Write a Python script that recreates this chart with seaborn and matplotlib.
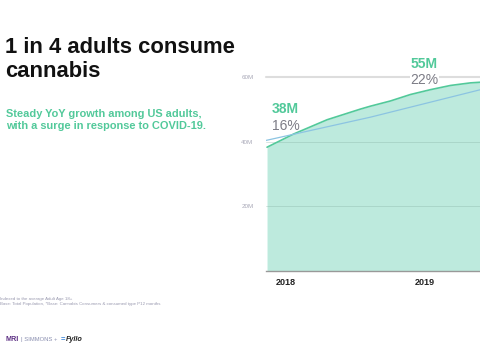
import matplotlib
matplotlib.use("Agg")
import matplotlib.pyplot as plt
import pandas as pd
import seaborn as sns

# Data (millions of US adults)
years_pos = [2017.868, 2018.060, 2018.300, 2018.540, 2018.612, 2018.755, 2018.899,
             2019.043, 2019.187, 2019.331, 2019.403]
consumers = [38.3, 42.4, 46.8, 50.1, 51.0, 52.6, 54.6, 56.1, 57.4, 58.2, 58.4]
trend_pos = [2017.85, 2018.612, 2019.403]
trend_vals = [40.3, 47.6, 56.1]
tick_years = [2018, 2019]
ytick_vals = [20, 40, 60]
ytick_labels = ['20M', '40M', '60M']
callouts = [(2018, 38, '38M', '16%'), (2019, 55, '55M', '22%')]

GREEN = '#52c99a'
FILL = '#bdeadd'
BLUE = '#8cc4e2'

df = pd.DataFrame({'year': years_pos, 'value': consumers})
df_trend = pd.DataFrame({'year': trend_pos, 'value': trend_vals})

sns.set_style('white')
plt.rcParams['font.family'] = ['Liberation Sans', 'DejaVu Sans']

fig = plt.figure(figsize=(4.8, 3.6), dpi=100)
ax = fig.add_axes([0.554, 0.247, 0.91, 0.539])

ax.fill_between(df['year'], df['value'], color=FILL, lw=0, zorder=1)
sns.lineplot(data=df, x='year', y='value', color=GREEN, lw=1.2, ax=ax, zorder=3)
sns.lineplot(data=df_trend, x='year', y='value', color=BLUE, lw=0.9, ax=ax, zorder=3)

ax.set_xlim(2017.86, 2021.0)
ax.set_ylim(0, 60)

# grid lines
ax.axhline(60, color='#dddddd', lw=1.5, zorder=0, clip_on=False)
for v in [20, 40]:
    ax.axhline(v, color='#7fa99b', lw=0.6, alpha=0.35, zorder=2)

for s in ['top', 'right', 'left']:
    ax.spines[s].set_visible(False)
ax.spines['bottom'].set_color('#999999')
ax.spines['bottom'].set_linewidth(1.0)

ax.set_yticks(ytick_vals)
ax.set_yticklabels(ytick_labels, color='#a9a9b8', fontsize=4.5)
ax.tick_params(axis='y', length=0, pad=9)
ax.set_xticks(tick_years)
ax.set_xticklabels([str(y) for y in tick_years], fontsize=6.5, fontweight='bold', color='#222222')
ax.tick_params(axis='x', length=0, pad=5)
ax.set_xlabel('')
ax.set_ylabel('')

# callouts
for x, _, big, pct in callouts:
    yb = 50 if x == 2018 else 64
    ax.text(x, yb, big, color=GREEN, fontsize=10, fontweight='bold', ha='center', va='center', clip_on=False)
    ax.text(x, yb - 5, pct, color='#7c7c86', fontsize=10, ha='center', va='center', clip_on=False,
            zorder=2, bbox=dict(facecolor='white', edgecolor='none', pad=0.3))

# left-hand text
fig.text(0.01, 0.835, '1 in 4 adults consume\ncannabis', fontsize=15.8, fontweight='bold',
         color='#111111', ha='left', va='center', linespacing=1.15)
fig.text(0.012, 0.667, 'Steady YoY growth among US adults,\nwith a surge in response to COVID-19.',
         fontsize=7.9, fontweight='bold', color=GREEN, ha='left', va='center', linespacing=1.25)
fig.text(0.0, 0.163, 'Indexed to the average Adult Age 18+\nBase: Total Population, *Base: Cannabis Consumers & consumed type P12 months',
         fontsize=3.2, color='#9a9ab0', ha='left', va='center', linespacing=1.4)

# logo line
fig.text(0.011, 0.058, 'MRI', fontsize=5.2, fontweight='bold', color='#5b2d82', ha='left', va='center')
fig.text(0.043, 0.058, '| SIMMONS +', fontsize=4.2, color='#8a8fb0', ha='left', va='center')
fig.text(0.126, 0.060, '=', fontsize=5.5, fontweight='bold', color='#2f7ed8', ha='left', va='center')
fig.text(0.137, 0.058, 'Fyllo', fontsize=5.2, fontweight='bold', style='italic', color='#222222', ha='left', va='center')

fig.savefig('out.png', dpi=100)
